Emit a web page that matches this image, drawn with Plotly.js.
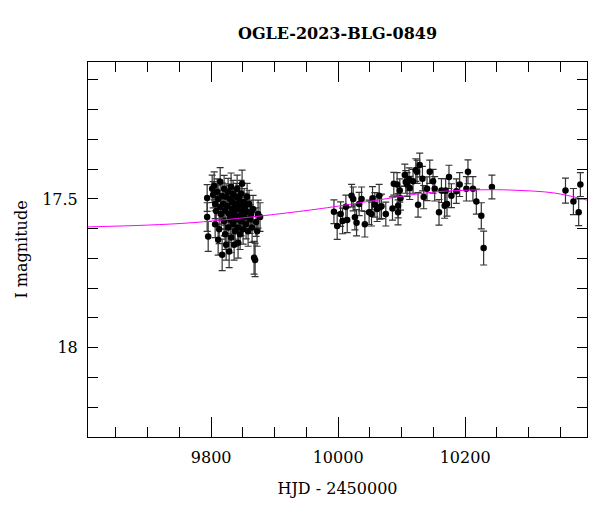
<!DOCTYPE html>
<html>
<head>
<meta charset="utf-8">
<script src="https://cdn.plot.ly/plotly-3.0.1.min.js"></script>
<style>html,body{margin:0;padding:0;background:#fff}#chart{width:600px;height:512px}</style>
</head>
<body>
<div id="chart"></div>
<script>
// Observed OGLE photometry (HJD - 2450000, I mag, error)
var hjd = [
9793.7,9793.7,9795.3,9801.6,9803.1,9804.7,9806.3,9806.3,9807.9,9809.4,
9811.0,9811.0,9812.6,9814.2,9814.2,9815.7,9817.3,9817.3,9818.9,9820.4,
9820.4,9822.0,9822.0,9823.6,9823.6,9825.2,9826.7,9826.7,9828.3,9828.3,
9829.9,9829.9,9831.4,9831.4,9833.0,9833.0,9834.6,9834.6,9836.2,9836.2,
9837.7,9837.7,9839.3,9839.3,9840.9,9840.9,9842.4,9842.4,9844.0,9844.0,
9845.6,9845.6,9847.2,9847.2,9848.7,9848.7,9850.3,9851.9,9851.9,9853.4,
9855.0,9856.6,9856.6,9858.2,9859.7,9861.3,9862.9,9864.5,9866.0,9867.6,
9869.2,9870.7,9872.3,9873.9,9877.0,
9993.4,9998.5,10003.9,10007.0,10012.2,10014.3,10021.2,10023.7,10026.4,10029.0,
10033.1,10036.9,10042.1,10048.8,10052.6,10054.2,10057.8,10061.4,10064.6,10065.7,
10068.3,10075.1,10085.6,10087.7,10092.9,10094.4,10094.4,10097.1,10098.2,10105.0,
10106.5,10108.6,10111.7,10112.8,
10118.0,10122.3,10124.3,10125.9,10128.5,10132.8,10134.8,10140.0,10144.3,10149.5,
10152.1,10158.9,10162.7,10167.8,10169.4,10171.5,10174.6,10178.4,10186.2,10191.4,
10202.0,10204.5,10212.3,10217.7,10225.5,10229.2,10242.2,
10358.1,10370.6,10378.9,10381.6
];
var mag = [
17.497,17.561,17.626,17.466,17.486,17.456,17.517,17.585,17.541,17.476,
17.500,17.637,17.602,17.527,17.442,17.551,17.490,17.688,17.517,17.466,
17.575,17.541,17.619,17.493,17.654,17.524,17.476,17.596,17.551,17.677,
17.500,17.568,17.459,17.630,17.534,17.510,17.585,17.483,17.551,17.654,
17.517,17.609,17.493,17.568,17.466,17.534,17.596,17.647,17.500,17.558,
17.520,17.619,17.483,17.575,17.541,17.449,17.602,17.510,17.561,17.527,
17.585,17.493,17.544,17.609,17.517,17.568,17.551,17.596,17.534,17.698,
17.705,17.578,17.609,17.551,17.561,
17.543,17.591,17.551,17.574,17.526,17.571,17.489,17.500,17.562,17.580,
17.517,17.500,17.585,17.545,17.551,17.498,17.520,17.534,17.489,17.528,
17.525,17.551,17.532,17.449,17.452,17.545,17.523,17.472,17.498,17.420,
17.443,17.452,17.434,17.463,
17.441,17.403,17.409,17.520,17.386,17.432,17.494,17.466,17.409,17.441,
17.466,17.545,17.472,17.523,17.472,17.517,17.426,17.489,17.474,17.452,
17.466,17.409,17.466,17.509,17.557,17.665,17.460,
17.472,17.509,17.545,17.452
];
var err = [
0.045,0.048,0.050,0.046,0.044,0.047,0.049,0.045,0.050,0.043,
0.046,0.052,0.048,0.045,0.047,0.050,0.044,0.053,0.046,0.045,
0.049,0.047,0.051,0.044,0.052,0.046,0.045,0.050,0.048,0.054,
0.045,0.049,0.046,0.051,0.047,0.044,0.050,0.045,0.048,0.052,
0.046,0.050,0.045,0.048,0.046,0.047,0.050,0.052,0.045,0.048,
0.046,0.051,0.045,0.049,0.047,0.046,0.050,0.045,0.048,0.046,
0.049,0.045,0.047,0.050,0.046,0.048,0.047,0.050,0.046,0.055,
0.056,0.048,0.050,0.047,0.048,
0.040,0.045,0.041,0.043,0.039,0.042,0.038,0.040,0.042,0.044,
0.039,0.040,0.043,0.041,0.040,0.039,0.041,0.042,0.038,0.040,
0.041,0.040,0.039,0.038,0.040,0.042,0.041,0.039,0.040,0.037,
0.038,0.040,0.038,0.039,
0.040,0.038,0.039,0.041,0.040,0.041,0.039,0.040,0.039,0.040,
0.041,0.043,0.040,0.042,0.040,0.041,0.039,0.040,0.041,0.040,
0.041,0.040,0.041,0.042,0.044,0.057,0.040,
0.042,0.044,0.045,0.040
];
// Fitted model curve
var modelHjd = [9606,9700,9770,9840,9900,9975,10040,10074,10110,10160,10200,10240,10280,10340,10392];
var modelMag = [17.594,17.588,17.580,17.566,17.552,17.532,17.511,17.500,17.488,17.475,17.471,17.469,17.471,17.480,17.504];

var titleText = 'OGLE-2023-BLG-0849';
var xTitle = 'HJD - 2450000';
var yTitle = 'I magnitude';
var xTickVals = [9800,10000,10200];
var xTickText = ['9800','10000','10200'];
var yTickVals = [17.5,18];
var yTickText = ['17.5','18'];

var serif = 'DejaVu Serif, serif';

var traces = [
  {
    x: hjd, y: mag, type: 'scatter', mode: 'markers',
    marker: {color: '#000', size: 6.5},
    error_y: {type: 'data', array: err, visible: true, color: '#333', thickness: 1.2, width: 3.5},
    hoverinfo: 'skip', showlegend: false
  },
  {
    x: modelHjd, y: modelMag, type: 'scatter', mode: 'lines',
    line: {color: '#ff00ff', width: 1, shape: 'spline'},
    hoverinfo: 'skip', showlegend: false
  }
];

var layout = {
  width: 600, height: 512,
  margin: {l: 88, r: 13, t: 62, b: 75},
  paper_bgcolor: '#fff', plot_bgcolor: '#fff',
  showlegend: false,
  title: {text: titleText, font: {family: serif, size: 16, color: '#000', weight: 'bold'}, x: 0.5625, xanchor: 'center', y: 0.935, yanchor: 'middle'},
  xaxis: {
    range: [9606, 10392],
    tickmode: 'array', tickvals: xTickVals, ticktext: xTickText,
    ticks: 'inside', ticklen: 20, tickwidth: 1, tickcolor: '#000',
    minor: {dtick: 50, tick0: 0, ticks: 'inside', ticklen: 10, tickwidth: 1, tickcolor: '#000', showgrid: false},
    showline: true, linecolor: '#000', linewidth: 1, mirror: 'allticks',
    showgrid: false, zeroline: false,
    tickfont: {family: serif, size: 16, color: '#000'},
    ticklabelstandoff: 6,
    title: {text: xTitle, font: {family: serif, size: 16, color: '#000'}, standoff: 16}
  },
  yaxis: {
    range: [18.3, 17.04],
    tickmode: 'array', tickvals: yTickVals, ticktext: yTickText,
    ticks: 'inside', ticklen: 10, tickwidth: 1, tickcolor: '#000',
    minor: {dtick: 0.1, tick0: 0, ticks: 'inside', ticklen: 10, tickwidth: 1, tickcolor: '#000', showgrid: false},
    showline: true, linecolor: '#000', linewidth: 1, mirror: 'allticks',
    showgrid: false, zeroline: false,
    tickfont: {family: serif, size: 16, color: '#000'},
    ticklabelstandoff: 6,
    title: {text: yTitle, font: {family: serif, size: 16, color: '#000'}, standoff: 10}
  }
};

Plotly.newPlot('chart', traces, layout, {staticPlot: true, displayModeBar: false});
</script>
</body>
</html>
